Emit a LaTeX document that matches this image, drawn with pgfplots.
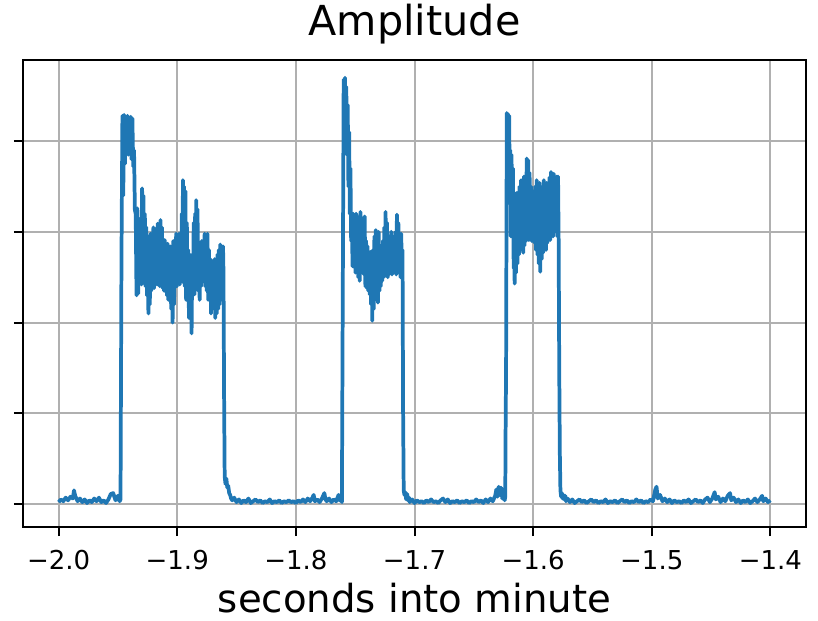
\documentclass[border=0pt]{standalone}
\usepackage{pgfplots}
\pgfplotsset{compat=1.18}
\usepackage{fontspec}
\setmainfont{DejaVu Sans}
\definecolor{mplblue}{HTML}{1F77B4}
\definecolor{gridgray}{HTML}{B0B0B0}
\begin{document}
\begin{tikzpicture}
\begin{axis}[
  scale only axis, width=587.25pt, height=350.25pt,
  xmin=-2.03, xmax=-1.37, ymin=-0.254, ymax=4.895,
  xtick={-2,-1.9,-1.8,-1.7,-1.6,-1.5,-1.4},
  xticklabels={−2.0,−1.9,−1.8,−1.7,−1.6,−1.5,−1.4},
  ytick={0,1,2,3,4}, yticklabels={},
  tick pos=left, tick align=outside,
  major tick length=6.8pt,
  every tick/.style={black, line width=1.5pt},
  grid=major, grid style={gridgray, line width=1.5pt},
  axis line style={black, line width=1.5pt},
  xticklabel style={font=\fontsize{19.5}{19.5}\selectfont, anchor=base, yshift=-25pt},
  title={Amplitude},
  title style={at={(0.5,1)}, anchor=base, yshift=12pt, font=\fontsize{31}{31}\selectfont},
  xlabel={seconds into minute},
  xlabel style={at={(0.5,0)}, anchor=base, yshift=-64pt, font=\fontsize{29}{29}\selectfont},
]
\addplot[mplblue, line width=2.8pt, line join=round, mark=none] table {
x y
-2.000 0.02
-1.998 0.05
-1.996 0.03
-1.994 0.07
-1.992 0.04
-1.990 0.08
-1.988 0.06
-1.987 0.15
-1.986 0.09
-1.984 0.03
-1.982 0.06
-1.980 0.02
-1.978 0.05
-1.976 0.01
-1.974 0.04
-1.972 0.02
-1.970 0.06
-1.968 0.03
-1.966 0.07
-1.964 0.02
-1.962 0.04
-1.960 0.01
-1.958 0.05
-1.956 0.11
-1.954 0.12
-1.952 0.04
-1.950 0.09
-1.9485 0.03
-1.9478 0.05
-1.9470 2.70
-1.9462 4.28
-1.9455 3.40
-1.9448 4.29
-1.9441 3.75
-1.9434 4.27
-1.9427 3.95
-1.9420 4.28
-1.9413 3.85
-1.9406 4.26
-1.9399 4.05
-1.9392 4.27
-1.9385 3.80
-1.9378 4.25
-1.9371 3.72
-1.9364 3.90
-1.9357 3.24
-1.9350 3.20
-1.9343 2.30
-1.9336 3.26
-1.9329 2.32
-1.9322 3.05
-1.9315 2.50
-1.9308 3.15
-1.9301 2.42
-1.9296 3.48
-1.9291 2.60
-1.9285 3.40
-1.9279 2.45
-1.9273 3.20
-1.9267 2.40
-1.9261 3.05
-1.9255 2.30
-1.9249 2.95
-1.9243 2.10
-1.9237 2.85
-1.9231 2.20
-1.9225 2.98
-1.9219 2.35
-1.9213 2.90
-1.9207 2.45
-1.9201 3.05
-1.9195 2.38
-1.9189 2.95
-1.9183 2.50
-1.9177 3.02
-1.9171 2.42
-1.9165 3.09
-1.9159 2.45
-1.9153 2.90
-1.9147 2.40
-1.9141 3.13
-1.9135 2.45
-1.9129 3.05
-1.9123 2.38
-1.9117 2.85
-1.9111 2.35
-1.9105 2.91
-1.9099 2.40
-1.9093 2.80
-1.9087 2.30
-1.9081 2.87
-1.9075 2.25
-1.9069 2.70
-1.9063 2.35
-1.9057 2.84
-1.9051 2.15
-1.9045 2.75
-1.9039 2.00
-1.9033 2.90
-1.9027 2.20
-1.9021 2.75
-1.9015 2.45
-1.9009 2.98
-1.9003 2.40
-1.8997 2.85
-1.8991 2.45
-1.8985 2.98
-1.8979 2.42
-1.8973 2.75
-1.8967 2.50
-1.8961 3.20
-1.8955 2.45
-1.8952 3.57
-1.8947 2.60
-1.8942 3.50
-1.8937 2.40
-1.8931 3.45
-1.8925 2.25
-1.8919 3.10
-1.8913 2.35
-1.8907 2.80
-1.8901 2.05
-1.8895 2.75
-1.8889 2.15
-1.8883 2.65
-1.8879 1.88
-1.8873 2.75
-1.8867 2.40
-1.8861 3.10
-1.8855 2.31
-1.8849 3.20
-1.8843 2.40
-1.8840 3.35
-1.8835 2.50
-1.8829 3.25
-1.8823 2.35
-1.8817 2.80
-1.8811 2.25
-1.8805 2.76
-1.8799 2.40
-1.8793 2.90
-1.8787 2.45
-1.8781 2.85
-1.8775 2.50
-1.8769 2.98
-1.8763 2.40
-1.8757 2.92
-1.8751 2.35
-1.8745 2.98
-1.8739 2.25
-1.8733 2.80
-1.8727 2.30
-1.8721 2.70
-1.8715 2.10
-1.8709 2.62
-1.8703 2.20
-1.8697 2.68
-1.8691 2.15
-1.8685 2.70
-1.8679 2.05
-1.8673 2.69
-1.8667 2.10
-1.8661 2.75
-1.8655 2.15
-1.8649 2.80
-1.8643 2.20
-1.8637 2.86
-1.8631 2.25
-1.8625 2.80
-1.8619 2.30
-1.8614 2.84
-1.8610 2.55
-1.8605 1.20
-1.8600 0.30
-1.8593 0.22
-1.8586 0.28
-1.8578 0.18
-1.8570 0.20
-1.8562 0.12
-1.8554 0.10
-1.8546 0.06
-1.8536 0.04
-1.852 0.07
-1.850 0.02
-1.848 0.05
-1.846 0.01
-1.844 0.04
-1.842 0.02
-1.840 0.06
-1.838 0.01
-1.836 0.03
-1.834 0.05
-1.832 0.02
-1.830 0.04
-1.828 0.01
-1.826 0.03
-1.824 0.02
-1.822 0.05
-1.820 0.01
-1.818 0.03
-1.816 0.02
-1.814 0.04
-1.812 0.01
-1.810 0.03
-1.808 0.02
-1.806 0.04
-1.804 0.02
-1.802 0.03
-1.800 0.01
-1.798 0.04
-1.796 0.02
-1.794 0.05
-1.792 0.02
-1.790 0.06
-1.788 0.03
-1.786 0.07
-1.785 0.10
-1.784 0.03
-1.782 0.05
-1.780 0.02
-1.778 0.06
-1.776 0.12
-1.775 0.05
-1.774 0.03
-1.772 0.06
-1.770 0.02
-1.768 0.05
-1.766 0.03
-1.764 0.10
-1.763 0.04
-1.7618 0.05
-1.7612 0.02
-1.7604 2.50
-1.7597 4.68
-1.7591 3.90
-1.7586 4.70
-1.7580 4.10
-1.7575 4.60
-1.7569 3.85
-1.7563 4.40
-1.7557 3.50
-1.7551 4.10
-1.7545 3.20
-1.7540 3.70
-1.7534 2.90
-1.7528 3.10
-1.7522 2.62
-1.7516 3.20
-1.7510 2.70
-1.7504 3.15
-1.7498 2.55
-1.7492 3.20
-1.7486 2.65
-1.7480 3.05
-1.7474 2.50
-1.7468 3.10
-1.7462 2.46
-1.7456 3.22
-1.7450 2.60
-1.7444 3.05
-1.7438 2.55
-1.7432 3.15
-1.7426 2.53
-1.7420 3.17
-1.7414 2.40
-1.7408 2.90
-1.7402 2.38
-1.7396 2.84
-1.7390 2.35
-1.7384 2.75
-1.7378 2.31
-1.7372 2.78
-1.7366 2.20
-1.7360 2.70
-1.7356 2.02
-1.7350 2.80
-1.7344 2.15
-1.7338 2.95
-1.7332 2.25
-1.7326 3.02
-1.7320 2.30
-1.7314 2.90
-1.7308 2.22
-1.7302 3.00
-1.7296 2.35
-1.7290 2.85
-1.7284 2.40
-1.7278 2.80
-1.7272 2.46
-1.7266 2.90
-1.7260 2.50
-1.7254 3.05
-1.7248 2.55
-1.7244 3.22
-1.7238 2.60
-1.7232 3.10
-1.7226 2.50
-1.7220 2.95
-1.7214 2.53
-1.7208 2.90
-1.7202 2.55
-1.7196 3.00
-1.7190 2.53
-1.7184 2.95
-1.7178 2.60
-1.7172 2.90
-1.7166 2.55
-1.7160 3.00
-1.7154 2.53
-1.7148 3.19
-1.7142 2.55
-1.7136 3.10
-1.7130 2.60
-1.7124 2.90
-1.7118 2.50
-1.7112 2.98
-1.7106 2.55
-1.7101 2.80
-1.7096 1.00
-1.7091 0.15
-1.7085 0.10
-1.7078 0.13
-1.7070 0.05
-1.7062 0.11
-1.7054 0.04
-1.7046 0.07
-1.704 0.02
-1.702 0.05
-1.700 0.01
-1.698 0.04
-1.696 0.02
-1.694 0.03
-1.692 0.01
-1.690 0.04
-1.688 0.02
-1.686 0.05
-1.684 0.02
-1.682 0.03
-1.680 0.01
-1.678 0.04
-1.676 0.06
-1.674 0.02
-1.672 0.05
-1.670 0.01
-1.668 0.03
-1.666 0.02
-1.664 0.04
-1.662 0.01
-1.660 0.03
-1.658 0.02
-1.656 0.04
-1.654 0.01
-1.652 0.03
-1.650 0.02
-1.648 0.05
-1.646 0.02
-1.644 0.04
-1.642 0.01
-1.640 0.05
-1.638 0.02
-1.636 0.06
-1.634 0.03
-1.632 0.09
-1.631 0.16
-1.630 0.08
-1.629 0.19
-1.628 0.10
-1.627 0.18
-1.626 0.06
-1.625 0.12
-1.624 0.04
-1.6235 0.08
-1.6232 0.82
-1.6228 1.51
-1.6222 4.31
-1.6217 3.60
-1.6212 4.30
-1.6207 3.50
-1.6202 4.28
-1.6197 3.40
-1.6193 3.90
-1.6188 2.95
-1.6182 3.85
-1.6176 3.00
-1.6170 3.70
-1.6164 2.60
-1.6160 3.43
-1.6156 2.43
-1.6150 3.30
-1.6144 2.55
-1.6138 3.43
-1.6132 2.65
-1.6126 3.35
-1.6120 2.75
-1.6114 3.50
-1.6108 2.84
-1.6102 3.57
-1.6096 2.80
-1.6090 3.45
-1.6084 2.77
-1.6078 3.61
-1.6072 2.85
-1.6066 3.55
-1.6060 2.90
-1.6054 3.81
-1.6048 2.95
-1.6042 3.79
-1.6036 2.91
-1.6030 3.65
-1.6024 2.95
-1.6018 3.50
-1.6012 2.90
-1.6006 3.45
-1.6000 2.95
-1.5994 3.39
-1.5988 2.88
-1.5982 3.50
-1.5976 2.80
-1.5970 3.57
-1.5964 2.75
-1.5958 3.45
-1.5952 2.65
-1.5946 3.54
-1.5940 2.56
-1.5934 3.40
-1.5928 2.70
-1.5922 3.50
-1.5916 2.77
-1.5910 3.57
-1.5904 2.85
-1.5898 3.45
-1.5892 2.80
-1.5886 3.54
-1.5880 2.88
-1.5874 3.50
-1.5868 2.95
-1.5862 3.60
-1.5856 2.91
-1.5850 3.66
-1.5844 3.00
-1.5838 3.55
-1.5832 2.95
-1.5826 3.64
-1.5820 3.05
-1.5814 3.50
-1.5808 3.00
-1.5802 3.61
-1.5796 2.95
-1.5790 3.61
-1.5785 2.91
-1.5780 1.50
-1.5775 0.56
-1.5770 0.15
-1.5764 0.08
-1.5758 0.12
-1.5752 0.06
-1.5745 0.10
-1.5738 0.05
-1.5730 0.09
-1.5722 0.03
-1.571 0.06
-1.569 0.02
-1.567 0.05
-1.565 0.01
-1.563 0.03
-1.561 0.05
-1.559 0.02
-1.557 0.04
-1.555 0.01
-1.553 0.03
-1.551 0.05
-1.549 0.02
-1.547 0.04
-1.545 0.01
-1.543 0.03
-1.541 0.02
-1.539 0.05
-1.537 0.01
-1.535 0.03
-1.533 0.02
-1.531 0.04
-1.529 0.01
-1.527 0.03
-1.525 0.05
-1.523 0.02
-1.521 0.04
-1.519 0.01
-1.517 0.03
-1.515 0.02
-1.513 0.05
-1.511 0.02
-1.509 0.04
-1.507 0.01
-1.505 0.03
-1.503 0.02
-1.501 0.05
-1.499 0.03
-1.497 0.16
-1.496 0.19
-1.495 0.06
-1.493 0.10
-1.491 0.03
-1.489 0.06
-1.487 0.02
-1.485 0.05
-1.483 0.01
-1.481 0.04
-1.479 0.02
-1.477 0.03
-1.475 0.01
-1.473 0.04
-1.471 0.02
-1.469 0.05
-1.467 0.01
-1.465 0.03
-1.463 0.05
-1.461 0.02
-1.459 0.04
-1.457 0.01
-1.455 0.05
-1.453 0.07
-1.451 0.02
-1.449 0.06
-1.447 0.13
-1.446 0.05
-1.444 0.08
-1.442 0.02
-1.440 0.06
-1.438 0.03
-1.436 0.09
-1.434 0.12
-1.433 0.04
-1.431 0.07
-1.429 0.02
-1.427 0.05
-1.425 0.01
-1.423 0.04
-1.421 0.02
-1.419 0.05
-1.417 0.01
-1.415 0.03
-1.413 0.06
-1.411 0.02
-1.409 0.05
-1.407 0.09
-1.406 0.03
-1.404 0.06
-1.402 0.02
-1.400 0.04
};
\end{axis}
\pgfresetboundingbox
\path ([shift={(-17.25pt,-70.5pt)}]current axis.south west) rectangle ([shift={(9pt,45pt)}]current axis.north east);
\end{tikzpicture}
\end{document}
